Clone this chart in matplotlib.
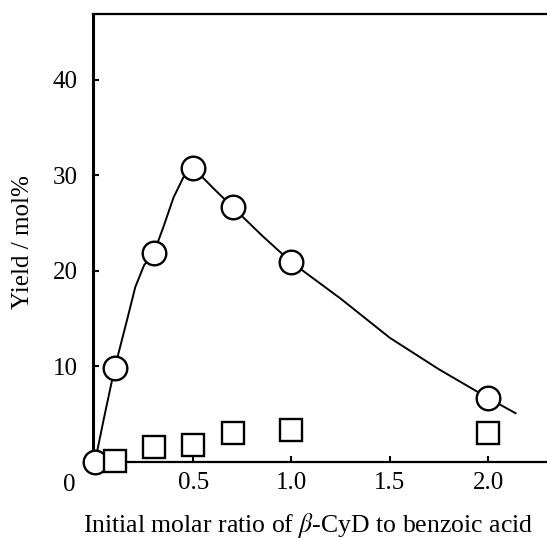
import numpy as np
import matplotlib.pyplot as plt

plt.rcParams['font.family'] = ['Liberation Serif', 'DejaVu Serif']
plt.rcParams['mathtext.fontset'] = 'stix'

# measured points (circles) and the second series (squares)
ratio_circle = [0.0, 0.1, 0.3, 0.5, 0.7, 1.0, 2.0]
yield_circle = [0.0, 9.8, 21.9, 30.8, 26.7, 20.9, 6.7]
ratio_square = [0.1, 0.3, 0.5, 0.7, 1.0, 2.0]
yield_square = [0.1, 1.6, 1.8, 3.0, 3.3, 3.0]

# hand-drawn trend line
curve_x = [0.0, 0.05, 0.1, 0.135, 0.165, 0.205, 0.25, 0.3, 0.35, 0.40, 0.45, 0.5,
           0.6, 0.7, 0.85, 1.0, 1.25, 1.5, 1.75, 2.0, 2.14]
curve_y = [0.0, 5.0, 9.8, 12.6, 15.0, 18.3, 20.6, 21.9, 24.7, 27.7, 29.8, 30.8,
           28.7, 26.7, 23.7, 20.9, 17.1, 13.0, 9.7, 6.7, 5.1]

xticks = [0.5, 1.0, 1.5, 2.0]
xtick_labels = ['0.5', '1.0', '1.5', '2.0']
yticks = [10, 20, 30, 40]

fig = plt.figure(figsize=(5.47, 5.39), dpi=100)
ax = fig.add_axes([0.170, 0.143, 0.830, 0.831])

ax.plot(curve_x, curve_y, color='black', lw=1.4, zorder=2, clip_on=False)
ax.plot(ratio_circle, yield_circle, 'o', ms=17, mfc='white', mec='black', mew=1.7,
        zorder=3, clip_on=False)
ax.plot(ratio_square, yield_square, 's', ms=16, mfc='white', mec='black', mew=1.7,
        zorder=3, clip_on=False)

ax.set_xlim(-0.01, 2.30)
ax.set_ylim(0, 46.9)

ax.spines['right'].set_visible(False)
ax.spines['left'].set_linewidth(2.2)
ax.spines['top'].set_linewidth(1.6)
ax.spines['bottom'].set_linewidth(1.6)

ax.set_xticks(xticks)
ax.set_xticklabels(xtick_labels)
ax.set_yticks(yticks)
ax.tick_params(direction='in', length=4, width=1.5, labelsize=18)
ax.tick_params(axis='x', pad=7)
ax.tick_params(axis='y', pad=11)
ax.text(-0.13, -2.4, '0', fontsize=18, ha='center', va='center')

ax.set_xlabel(r'Initial molar ratio of $\it{\beta}$-CyD to benzoic acid', fontsize=18.5, va='center')
ax.xaxis.set_label_coords(0.474, -0.141)
ax.set_ylabel('Yield / mol%', fontsize=18, va='center')
ax.yaxis.set_label_coords(-0.154, 0.491)

fig.savefig('out.png', dpi=100)
